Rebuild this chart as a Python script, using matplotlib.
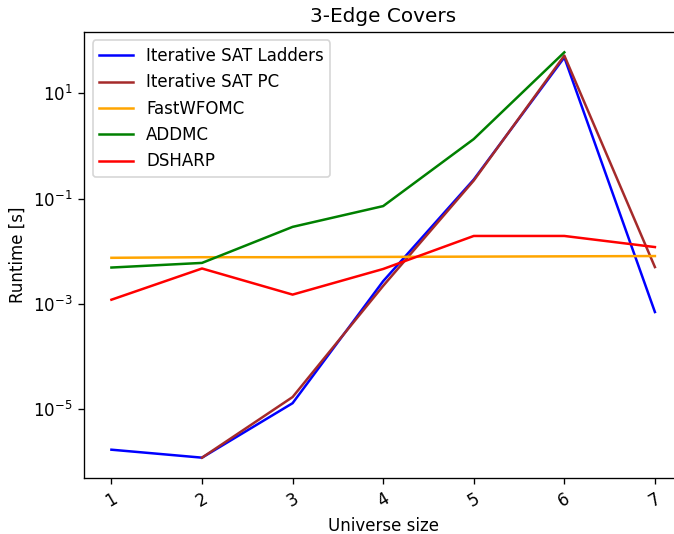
import matplotlib
matplotlib.use("Agg")
import matplotlib.pyplot as plt
from matplotlib.ticker import NullLocator

# Universe sizes
sizes = [1, 2, 3, 4, 5, 6, 7]

# Runtimes in seconds
sat_ladders = [1.7e-6, 1.2e-6, 1.3e-5, 2.7e-3, 0.23, 48, 7e-4]
sat_pc_sizes = [2, 3, 4, 5, 6, 7]
sat_pc = [1.2e-6, 1.7e-5, 2.2e-3, 0.22, 52, 5e-3]
fastwfomc = [7.5e-3, 7.7e-3, 7.7e-3, 7.8e-3, 7.9e-3, 8.0e-3, 8.1e-3]
addmc_sizes = [1, 2, 3, 4, 5, 6]
addmc = [4.9e-3, 6e-3, 0.029, 0.072, 1.35, 60]
dsharp = [1.2e-3, 4.7e-3, 1.5e-3, 4.6e-3, 0.0195, 0.0195, 0.012]
ytick_vals = [1e-5, 1e-3, 1e-1, 1e1]

fig, ax = plt.subplots(figsize=(674 / 120, 534 / 120), dpi=120)

ax.plot(sizes, sat_ladders, color='blue', label='Iterative SAT Ladders')
ax.plot(sat_pc_sizes, sat_pc, color='brown', label='Iterative SAT PC')
ax.plot(sizes, fastwfomc, color='orange', label='FastWFOMC')
ax.plot(addmc_sizes, addmc, color='green', label='ADDMC')
ax.plot(sizes, dsharp, color='red', label='DSHARP')

ax.set_yscale('log')
ax.set_yticks(ytick_vals)
ax.yaxis.set_minor_locator(NullLocator())
ax.set_xticks(sizes)
plt.setp(ax.get_xticklabels(), rotation=30)

ax.set_title('3-Edge Covers')
ax.set_xlabel('Universe size')
ax.set_ylabel('Runtime [s]')
ax.legend(loc='upper left')

# the original image is cropped on the right, so the right spine falls outside
fig.subplots_adjust(left=0.125, right=1.012, top=0.94, bottom=0.105)
fig.savefig('out.png')
